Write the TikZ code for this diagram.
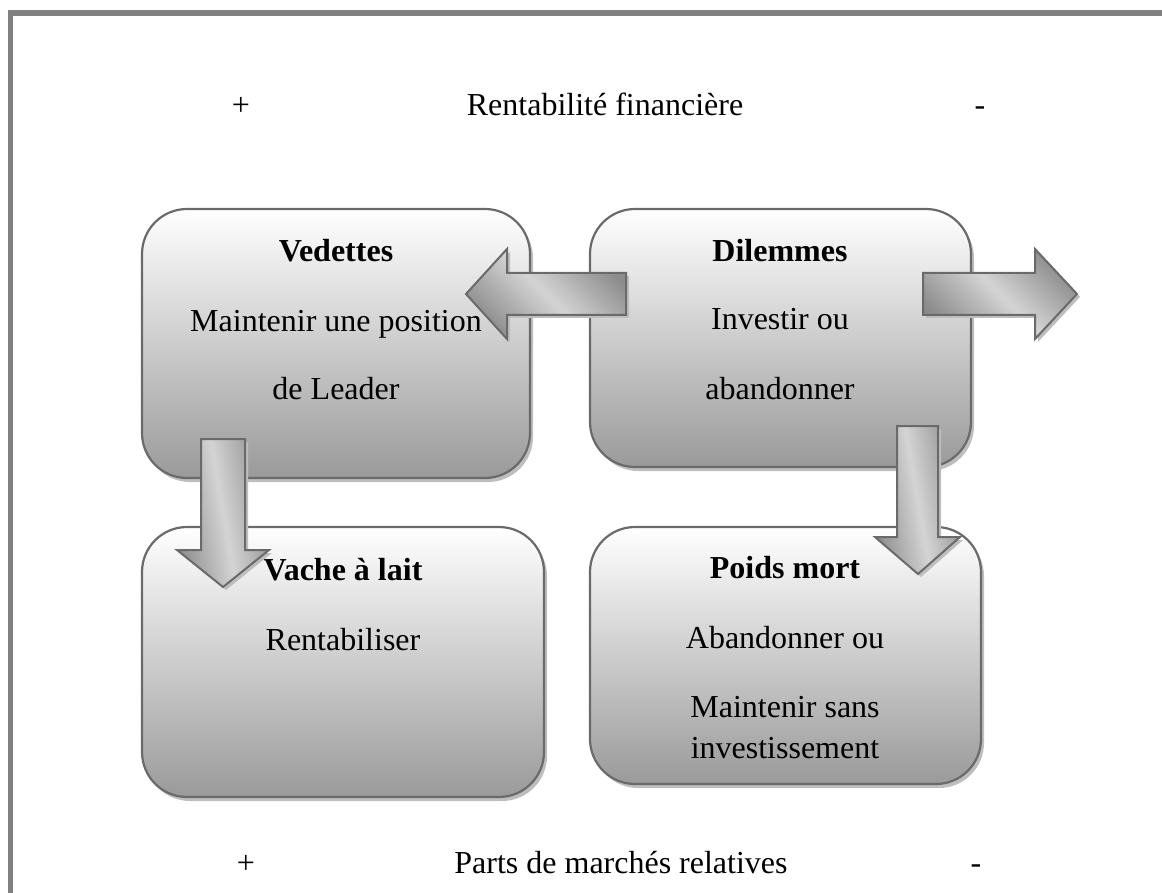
\documentclass[tikz,border=0pt]{standalone}
\usepackage{fontspec}
\setmainfont{Liberation Serif}
\usetikzlibrary{shadows}

\definecolor{framegray}{HTML}{808080}
\definecolor{edgegray}{HTML}{6A6A6A}
\definecolor{boxtop}{HTML}{FFFFFF}
\definecolor{boxbot}{HTML}{9A9A9A}
\definecolor{shadegray}{HTML}{BEBEBE}
\definecolor{arrdark}{HTML}{8C8C8C}
\definecolor{arrlight}{HTML}{D4D4D4}

\tikzset{
  quad/.style={draw=edgegray, line width=2.2pt, rounded corners=45pt,
    top color=boxtop, bottom color=boxbot, inner sep=0pt,
    drop shadow={shadow xshift=3pt, shadow yshift=-4pt, fill=shadegray, opacity=1}},
  lbl/.style={font=\fontsize{32pt}{38pt}\selectfont, inner sep=0pt, anchor=base},
  blockarrow/.style={draw=edgegray, line width=2pt, line join=miter,
    left color=arrdark, right color=arrdark, middle color=arrlight,
    drop shadow={shadow xshift=3pt, shadow yshift=-3pt, fill=shadegray, opacity=1}},
}

\begin{document}
\begin{tikzpicture}[x=1pt,y=-1pt]
\useasboundingbox (0,0) rectangle (1162,893);

% outer frame (left and top edges)
\draw[framegray, line width=5.5pt] (10.5,893) -- (10.5,13) -- (1162,13);

% axis captions
\node[lbl] (plusTop)  at (241,116) {+};
\node[lbl] (axisTop)  at (605,116) {Rentabilité financière};
\node[lbl] (minusTop) at (980,116) {-};
\node[lbl] (plusBot)  at (246,873) {+};
\node[lbl] (axisBot)  at (621,873) {Parts de marchés relatives};
\node[lbl] (minusBot) at (976,873) {-};

% the four quadrants
\node[quad, minimum width=388pt, minimum height=269pt] (ved) at (336,343.5) {};
\node[quad, minimum width=381pt, minimum height=258pt] (dil) at (780.5,338) {};
\node[quad, minimum width=402pt, minimum height=270pt] (vac) at (343,662) {};
\node[quad, minimum width=391pt, minimum height=257pt] (poi) at (785.5,655.5) {};

% quadrant texts
\node[lbl] (vedT)  at (336,262) {\textbf{Vedettes}};
\node[lbl] (vedA)  at (336,331) {Maintenir une position};
\node[lbl] (vedB)  at (336,399) {de Leader};

\node[lbl] (dilT)  at (780,262) {\textbf{Dilemmes}};
\node[lbl] (dilA)  at (780,330) {Investir ou};
\node[lbl] (dilB)  at (780,399) {abandonner};

\node[lbl] (vacT)  at (343,580) {\textbf{Vache à lait}};
\node[lbl] (vacA)  at (343,650) {Rentabiliser};

\node[lbl] (poiT)  at (785,578) {\textbf{Poids mort}};
\node[lbl] (poiA)  at (785,648) {Abandonner ou};
\node[lbl] (poiB)  at (785,717) {Maintenir sans};
\node[lbl] (poiC)  at (785,758) {investissement};

% block arrows between quadrants
\draw[blockarrow, shading angle=135]
  (466,294) -- (507,249) -- (507,273) -- (626,273) -- (626,315) -- (507,315) -- (507,339) -- cycle;
\draw[blockarrow, shading angle=135]
  (923,273) -- (1035,273) -- (1035,249) -- (1077,294) -- (1035,339) -- (1035,315) -- (923,315) -- cycle;
\draw[blockarrow, shading angle=100]
  (201,439) -- (245,439) -- (245,550) -- (269,550) -- (223,587) -- (177,550) -- (201,550) -- cycle;
\draw[blockarrow, shading angle=100]
  (897,426) -- (938,426) -- (938,537) -- (960,537) -- (918,574) -- (875,537) -- (897,537) -- cycle;
\end{tikzpicture}
\end{document}
